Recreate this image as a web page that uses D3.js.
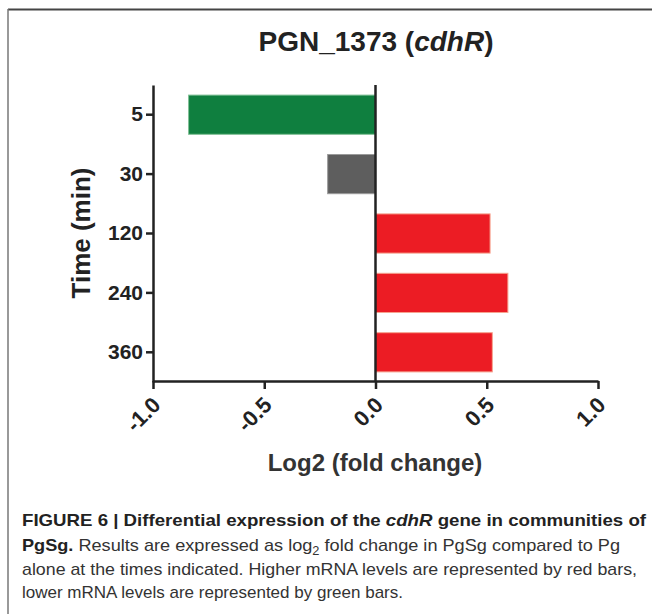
<!DOCTYPE html>
<html>
<head>
<meta charset="utf-8">
<style>
  body { margin: 0; background: #fff; }
  svg { display: block; font-family: "Liberation Sans", Arial, sans-serif; }
</style>
</head>
<body>
<svg width="652" height="614"></svg>
<script src="https://d3js.org/d3.v7.min.js"></script>
<script>

// values
var times = ["5", "30", "120", "240", "360"];
var log2fc = [-0.84, -0.215, 0.515, 0.595, 0.525];
var signif = ["down", "ns", "up", "up", "up"];
var xTicks = [-1, -0.5, 0, 0.5, 1];
var xTickLabels = ["-1.0", "-0.5", "0.0", "0.5", "1.0"];

var svg = d3.select("svg");

var x = d3.scaleLinear().domain([-1, 1]).range([153, 598]);
var y = d3.scaleBand().domain(times).range([85, 382])
    .paddingInner(0.34).paddingOuter(0.17);
var color = d3.scaleOrdinal()
    .domain(["down", "ns", "up"])
    .range(["#0f7f3f", "#5e5e5e", "#ec1c24"]);
var edge = d3.scaleOrdinal()
    .domain(["down", "ns", "up"])
    .range(["#7fbf94", "#9a9a9a", "#f6a38f"]);

// frame round the figure
svg.append("line").attr("x1", 8).attr("x2", 652).attr("y1", 9.5).attr("y2", 9.5)
    .attr("stroke", "#444").attr("stroke-width", 2);
svg.append("line").attr("x1", 8).attr("x2", 8).attr("y1", 9).attr("y2", 614)
    .attr("stroke", "#777").attr("stroke-width", 1.5);

// title
var title = svg.append("text")
    .attr("x", 376).attr("y", 51)
    .attr("text-anchor", "middle")
    .attr("font-size", 28).attr("font-weight", "bold").attr("fill", "#222");
title.append("tspan").text("PGN_1373 (");
title.append("tspan").attr("font-style", "italic").text("cdhR");
title.append("tspan").text(")");

// bars
var rows = times.map(function(t, i) { return {time: t, value: log2fc[i], signif: signif[i]}; });

svg.selectAll(".bar")
  .data(rows)
  .enter().append("rect")
    .attr("class", "bar")
    .attr("x", function(d) { return Math.min(x(0), x(d.value)); })
    .attr("width", function(d) { return Math.abs(x(d.value) - x(0)); })
    .attr("y", function(d) { return y(d.time); })
    .attr("height", y.bandwidth())
    .attr("fill", function(d) { return color(d.signif); })
    .attr("stroke", function(d) { return edge(d.signif); })
    .attr("stroke-width", 1);

// zero line
svg.append("line")
    .attr("x1", x(0)).attr("x2", x(0))
    .attr("y1", 85).attr("y2", 382)
    .attr("stroke", "#222").attr("stroke-width", 2.5);

// y axis
var yAxis = svg.append("g")
    .attr("transform", "translate(153,0)")
    .call(d3.axisLeft(y).tickSize(7).tickSizeOuter(0).tickPadding(3));
yAxis.select(".domain").attr("stroke", "#222").attr("stroke-width", 2.5);
yAxis.selectAll(".tick line").attr("stroke", "#222").attr("stroke-width", 2.5);
yAxis.selectAll(".tick text")
    .attr("font-size", 21).attr("font-weight", "bold").attr("fill", "#222")
    .attr("font-family", "Liberation Sans, Arial, sans-serif");

// x axis
var xAxis = svg.append("g")
    .attr("transform", "translate(0,381)")
    .call(d3.axisBottom(x).tickValues(xTicks).tickSize(8).tickSizeOuter(0)
      .tickFormat(function(d, i) { return xTickLabels[i]; }));
xAxis.select(".domain").attr("stroke", "#222").attr("stroke-width", 2.5);
xAxis.selectAll(".tick line").attr("stroke", "#222").attr("stroke-width", 2.5);
xAxis.selectAll(".tick text")
    .attr("font-size", 22).attr("font-weight", "bold").attr("fill", "#222")
    .attr("font-family", "Liberation Sans, Arial, sans-serif")
    .attr("text-anchor", "end")
    .attr("x", 0).attr("y", 0).attr("dy", "0.35em")
    .attr("transform", "translate(3,20) rotate(-45)");

// axis titles
svg.append("text")
    .attr("transform", "translate(90,233) rotate(-90)")
    .attr("text-anchor", "middle")
    .attr("font-size", 26).attr("font-weight", "bold").attr("fill", "#222")
    .text("Time (min)");

svg.append("text")
    .attr("x", 375).attr("y", 471)
    .attr("text-anchor", "middle")
    .attr("font-size", 24).attr("font-weight", "bold").attr("fill", "#333")
    .text("Log2 (fold change)");

// caption
var cap = svg.append("g").attr("font-size", 17).attr("fill", "#333");

var l1 = cap.append("text").attr("x", 22).attr("y", 526)
    .attr("font-weight", "bold").attr("fill", "#222")
    .attr("textLength", 624).attr("lengthAdjust", "spacingAndGlyphs");
l1.append("tspan").text("FIGURE 6 | Differential expression of the ");
l1.append("tspan").attr("font-style", "italic").text("cdhR");
l1.append("tspan").text(" gene in communities of");

var l2 = cap.append("text").attr("x", 22).attr("y", 551)
    .attr("textLength", 598).attr("lengthAdjust", "spacingAndGlyphs");
l2.append("tspan").attr("font-weight", "bold").attr("fill", "#222").text("PgSg.");
l2.append("tspan").text(" Results are expressed as log");
l2.append("tspan").attr("font-size", 12).attr("dy", 4).text("2");
l2.append("tspan").attr("dy", -4).text(" fold change in PgSg compared to Pg");

cap.append("text").attr("x", 22).attr("y", 575)
    .attr("textLength", 615).attr("lengthAdjust", "spacingAndGlyphs")
    .text("alone at the times indicated. Higher mRNA levels are represented by red bars,");

cap.append("text").attr("x", 22).attr("y", 598)
    .attr("textLength", 381).attr("lengthAdjust", "spacingAndGlyphs")
    .text("lower mRNA levels are represented by green bars.");

</script>
</body>
</html>
